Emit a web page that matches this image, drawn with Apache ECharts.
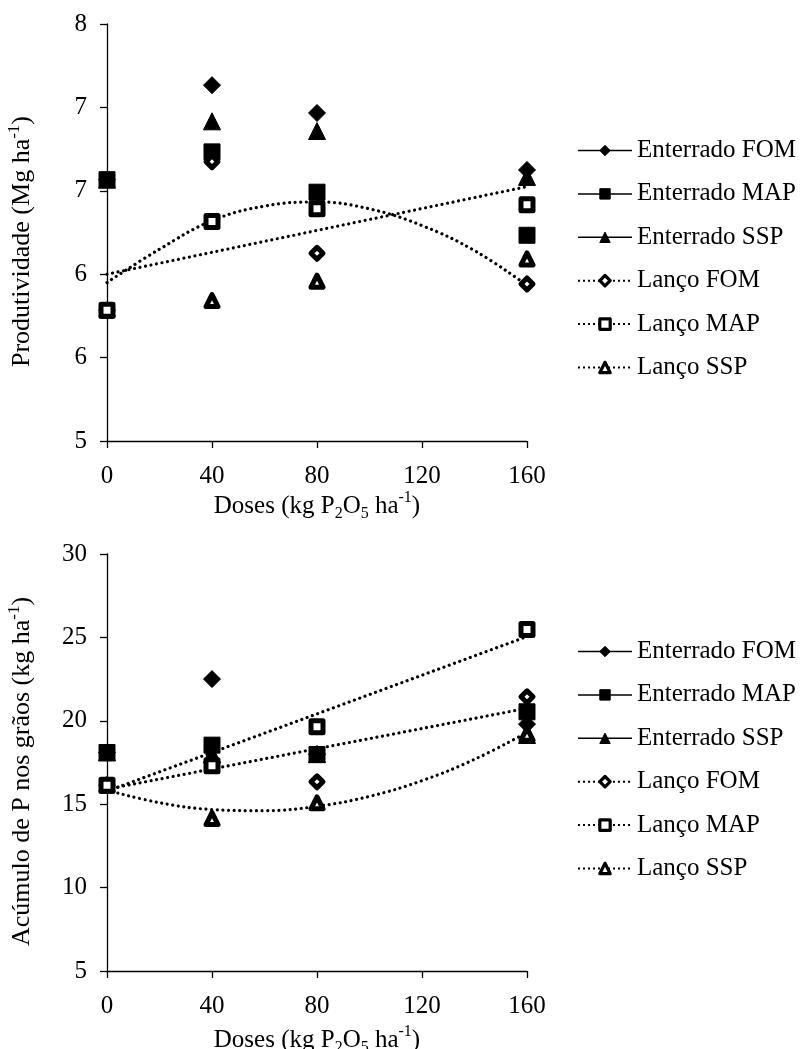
<!DOCTYPE html>
<html><head><meta charset="utf-8">
<script src="https://cdn.jsdelivr.net/npm/echarts@6/dist/echarts.min.js"></script>
<style>html,body{margin:0;padding:0;background:#fff}#c{width:801px;height:1049px}</style>
</head><body><div id="c"></div>
<script>
// ---------- data ----------
const doses = [0, 40, 80, 160];
const seriesNames = ['Enterrado FOM', 'Enterrado MAP', 'Enterrado SSP', 'Lanço FOM', 'Lanço MAP', 'Lanço SSP'];

// Produtividade (Mg ha-1)
const prodEntFOM = [6.88, 7.56, 7.36, 6.95];
const prodEntMAP = [6.88, 7.08, 6.79, 6.48];
const prodEntSSP = [6.88, 7.30, 7.23, 6.90];
const prodLanFOM = [5.94, 7.01, 6.35, 6.13];
const prodLanMAP = [5.94, 6.58, 6.67, 6.70];
const prodLanSSP = [5.94, 6.01, 6.15, 6.31];

// Acúmulo de P nos grãos (kg ha-1)
const acumEntFOM = [18.10, 22.50, 18.00, 19.80];
const acumEntMAP = [18.10, 18.54, 17.98, 20.54];
const acumEntSSP = [18.10, 18.00, 18.00, 19.15];
const acumLanFOM = [16.14, 17.50, 16.34, 21.44];
const acumLanMAP = [16.14, 17.30, 19.64, 25.48];
const acumLanSSP = [16.14, 14.14, 15.08, 19.20];

// trend lines
const trendX = [0, 20, 40, 60, 80, 100, 120, 140, 160];
const trendEndsX = [0, 160];
const prodTrendQuad = [6.14, 6.38, 6.585, 6.69, 6.72, 6.67, 6.55, 6.37, 6.12];
const prodTrendLin = [6.20, 6.83];
const acumTrendSteep = [15.78, 25.05];
const acumTrendGentle = [15.90, 20.75];
const acumTrendQuad = [15.84, 15.09, 14.68, 14.61, 14.87, 15.47, 16.41, 17.69, 19.30];

// ---------- styling ----------
const FONT = "'Liberation Serif', 'Times New Roman', serif";
const FS = 25;
const symbols = ['diamond', 'rect', 'triangle', 'diamond', 'rect', 'triangle'];
const filledSize = { diamond: 17, rect: 16, triangle: 17 };

function markerStyle(i) {
  if (i < 3) return { color: '#000', borderColor: '#000', borderWidth: 1, borderJoin: 'round' };
  return { color: '#fff', borderColor: '#000', borderWidth: 5, borderJoin: 'round' };
}

function dataSeries(gridIdx, arrays) {
  return arrays.map((arr, i) => ({
    name: seriesNames[i],
    type: 'line',
    xAxisIndex: gridIdx, yAxisIndex: gridIdx,
    data: doses.map((d, j) => [d, arr[j]]),
    symbol: symbols[i],
    symbolSize: i < 3 ? filledSize[symbols[i]] : 12,
    itemStyle: markerStyle(i),
    lineStyle: { opacity: 0, width: 0 },
    z: (i === 4) ? 4 : 3,
    silent: true
  }));
}

function trendSeries(gridIdx, xs, ys) {
  return {
    type: 'line', xAxisIndex: gridIdx, yAxisIndex: gridIdx,
    data: xs.map((x, j) => [x, ys[j]]),
    smooth: xs.length > 2 ? 0.4 : false,
    symbol: 'none',
    lineStyle: { color: '#000', width: 3.2, type: [0.01, 5.6], cap: 'round' },
    z: 2, silent: true
  };
}

function legendFor(top) {
  return {
    orient: 'vertical', left: 572, top: top,
    itemWidth: 54, itemHeight: 13, itemGap: 18.4,
    selectedMode: false,
    textStyle: { fontFamily: FONT, fontSize: FS, color: '#000' },
    data: seriesNames.map((n, i) => ({
      name: n,
      itemStyle: i < 3
        ? { color: '#000', borderColor: '#000', borderWidth: 1 }
        : { color: '#fff', borderColor: '#000', borderWidth: 3.2, borderJoin: 'round' },
      lineStyle: i < 3
        ? { color: '#000', width: 1.5, type: 'solid', opacity: 1 }
        : { color: '#000', width: 2, type: [2, 3], opacity: 1 }
    }))
  };
}

const axisLine = { show: true, lineStyle: { color: '#000', width: 1.3 } };
const axisTick = { show: true, length: 7, lineStyle: { color: '#000', width: 1.3 } };
const labelStyle = { fontFamily: FONT, fontSize: FS, color: '#000' };
function richName(fs) {
  return {
    sup: { fontFamily: FONT, fontSize: fs, lineHeight: 18, verticalAlign: 'top', color: '#000' },
    sub: { fontFamily: FONT, fontSize: fs, lineHeight: 22, verticalAlign: 'bottom', color: '#000' }
  };
}
const xNameStyle = { fontFamily: FONT, fontSize: FS, color: '#000', lineHeight: 32, rich: richName(16) };
const yNameStyle = { fontFamily: FONT, fontSize: 26, color: '#000', lineHeight: 32, padding: [0, 18, 0, 0], rich: richName(17) };

function xAxisFor(g, gap) {
  return {
    gridIndex: g, type: 'value', min: 0, max: 160, interval: 40,
    axisLine, axisTick, splitLine: { show: false },
    axisLabel: Object.assign({ margin: 23 }, labelStyle),
    name: 'Doses (kg P{sub|2}O{sub|5} ha{sup|-1})',
    nameLocation: 'middle', nameGap: gap, nameTextStyle: xNameStyle
  };
}

const option = {
  animation: false,
  backgroundColor: '#fff',
  grid: [
    { left: 107, top: 24, width: 420, height: 417, containLabel: false, outerBoundsMode: 'none' },
    { left: 107, top: 554, width: 420, height: 417, containLabel: false, outerBoundsMode: 'none' }
  ],
  xAxis: [xAxisFor(0, 49), xAxisFor(1, 53)],
  yAxis: [
    {
      gridIndex: 0, type: 'value', min: 5, max: 8, interval: 0.6,
      axisLine, axisTick, splitLine: { show: false },
      axisLabel: Object.assign({ margin: 20, formatter: v => String(Math.round(v)) }, labelStyle),
      name: 'Produtividade (Mg ha{sup|-1})',
      nameLocation: 'middle', nameGap: 69, nameTextStyle: yNameStyle
    },
    {
      gridIndex: 1, type: 'value', min: 5, max: 30, interval: 5,
      axisLine, axisTick, splitLine: { show: false },
      axisLabel: Object.assign({ margin: 20 }, labelStyle),
      name: 'Acúmulo de P nos grãos (kg ha{sup|-1})',
      nameLocation: 'middle', nameGap: 69, nameTextStyle: yNameStyle
    }
  ],
  legend: [legendFor(133), legendFor(634)],
  series: [
    trendSeries(0, trendX, prodTrendQuad),
    trendSeries(0, trendEndsX, prodTrendLin),
    trendSeries(1, trendEndsX, acumTrendSteep),
    trendSeries(1, trendEndsX, acumTrendGentle),
    trendSeries(1, trendX, acumTrendQuad)
  ].concat(
    dataSeries(0, [prodEntFOM, prodEntMAP, prodEntSSP, prodLanFOM, prodLanMAP, prodLanSSP]),
    dataSeries(1, [acumEntFOM, acumEntMAP, acumEntSSP, acumLanFOM, acumLanMAP, acumLanSSP])
  )
};

const chart = echarts.init(document.getElementById('c'), null, { renderer: 'canvas' });
chart.setOption(option);
</script>
</body></html>
